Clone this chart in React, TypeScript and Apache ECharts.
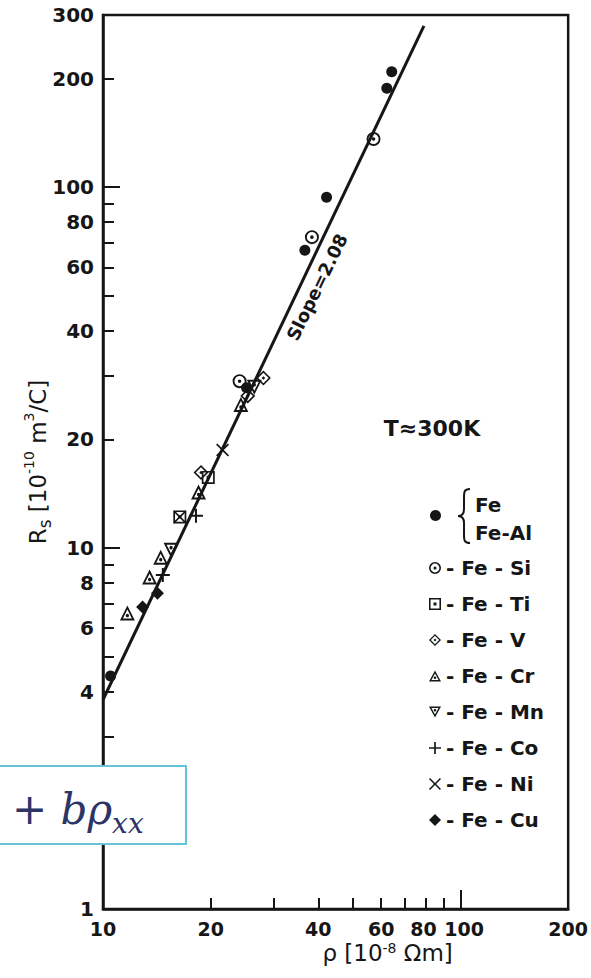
import React, { useEffect, useRef } from 'react';
import * as echarts from 'echarts';

// Axis ticks and labels (log scales)
const RHO_TICKS = [10, 20, 30, 40, 50, 60, 70, 80, 90, 100, 200];
const RHO_LABELS = [10, 20, 40, 60, 80, 100, 200];
const RHO_DECADE_TICKS = [100];
const RS_TICKS = [1, 2, 3, 4, 5, 6, 7, 8, 9, 10, 20, 30, 40, 50, 60, 70, 80, 90, 100, 200, 300];
const RS_LABELS = [1, 4, 6, 8, 10, 20, 40, 60, 80, 100, 200, 300];
const RS_DECADE_TICKS = [10, 100];

// Resistivity rho [1e-8 Ohm m] and Hall coefficient Rs [1e-10 m3/C] per alloy
const FE_RHO = [10.5, 25.2, 36.7, 42.2, 62.2, 64.2];
const FE_RS = [4.42, 27.8, 66.9, 93.8, 188, 209];
const SI_RHO = [24.1, 38.4, 57.1];
const SI_RS = [29.0, 72.7, 136];
const TI_RHO = [16.4, 19.7];
const TI_RS = [12.2, 15.7];
const V_RHO = [18.8, 25.4, 28.1];
const V_RS = [16.2, 26.4, 29.6];
const CR_RHO = [11.7, 13.5, 14.5, 18.5, 24.3];
const CR_RS = [6.61, 8.31, 9.44, 14.3, 25.0];
const MN_RHO = [15.5, 26.5];
const MN_RS = [9.87, 27.9];
const CO_RHO = [14.7, 18.2];
const CO_RS = [8.42, 12.3];
const NI_RHO = [16.4, 21.6];
const NI_RS = [12.2, 18.7];
const CU_RHO = [12.9, 14.2];
const CU_RS = [6.87, 7.5];

// Power-law fit, slope 2.08 on the log-log plot
const FIT_SLOPE = '2.08';
const FIT_LINE = [
  [10, 3.8],
  [79, 280],
];

const INK = '#161616';
const FONT = 'DejaVu Sans';

// Marker outlines with a centre dot (outer and inner contours wound oppositely)
const SYM_SI =
  'path://M0,-10A10,10,0,1,1,0,10A10,10,0,1,1,0,-10ZM0,-7.3A7.3,7.3,0,1,0,0,7.3A7.3,7.3,0,1,0,0,-7.3ZM0,-2.6A2.6,2.6,0,1,1,0,2.6A2.6,2.6,0,1,1,0,-2.6Z';
const SYM_TI = 'path://M-10,-10H10V10H-10ZM-7.4,-7.4V7.4H7.4V-7.4ZM-2.5,-2.5H2.5V2.5H-2.5Z';
const SYM_V = 'path://M0,-11L11,0L0,11L-11,0ZM0,-7.6L-7.6,0L0,7.6L7.6,0ZM0,-2.7L2.7,0L0,2.7L-2.7,0Z';
const SYM_CR =
  'path://M0,-10L10,8L-10,8ZM0,-5.05L-5.92,5.6L5.92,5.6ZM0,-0.2A2.2,2.2,0,1,1,0,4.2A2.2,2.2,0,1,1,0,-0.2Z';
const SYM_MN =
  'path://M0,10L-10,-8L10,-8ZM0,5.05L5.92,-5.6L-5.92,-5.6ZM0,0.2A2.2,2.2,0,1,0,0,-4.2A2.2,2.2,0,1,0,0,0.2Z';
const SYM_CO = 'path://M-1.4,-10H1.4V-1.4H10V1.4H1.4V10H-1.4V1.4H-10V-1.4H-1.4Z';
const SYM_NI = 'path://M-10,-8.2L-8.2,-10L0,-1.8L8.2,-10L10,-8.2L1.8,0L10,8.2L8.2,10L0,1.8L-8.2,10L-10,8.2L-1.8,0Z';

const ALLOYS = [
  { name: 'Fe', rho: FE_RHO, rs: FE_RS, symbol: 'circle', size: 11 },
  { name: 'Fe-Si', rho: SI_RHO, rs: SI_RS, symbol: SYM_SI, size: 14 },
  { name: 'Fe-Ti', rho: TI_RHO, rs: TI_RS, symbol: SYM_TI, size: 13 },
  { name: 'Fe-V', rho: V_RHO, rs: V_RS, symbol: SYM_V, size: 15 },
  { name: 'Fe-Cr', rho: CR_RHO, rs: CR_RS, symbol: SYM_CR, size: 15 },
  { name: 'Fe-Mn', rho: MN_RHO, rs: MN_RS, symbol: SYM_MN, size: 15 },
  { name: 'Fe-Co', rho: CO_RHO, rs: CO_RS, symbol: SYM_CO, size: 14 },
  { name: 'Fe-Ni', rho: NI_RHO, rs: NI_RS, symbol: SYM_NI, size: 13 },
  { name: 'Fe-Cu', rho: CU_RHO, rs: CU_RS, symbol: 'diamond', size: 13 },
];

// Curly brace grouping the Fe and Fe-Al legend labels
echarts.graphic.registerShape(
  'brace',
  echarts.graphic.extendPath(
    'M12,0C6,0,6,3,6,9L6,20C6,25,4,27,0,27C4,27,6,29,6,34L6,45C6,51,6,54,12,54',
    {}
  )
);

const tickLabelStyle = {
  color: INK,
  fontFamily: FONT,
  fontSize: 20,
  fontWeight: 'bold' as const,
};

// x-axis title: single line, tight box
const xNameRich = {
  a: { fontFamily: FONT, fontSize: 23, color: INK, lineHeight: 24 },
  p: { fontFamily: FONT, fontSize: 14, color: INK, lineHeight: 24, verticalAlign: 'top' as const },
};

// y-axis title: taller line so the subscript and superscripts sit off the baseline
const yNameRich = {
  a: { fontFamily: FONT, fontSize: 23, color: INK, lineHeight: 24 },
  s: { fontFamily: FONT, fontSize: 17, color: INK, lineHeight: 31, verticalAlign: 'bottom' as const },
  p: { fontFamily: FONT, fontSize: 14, color: INK, lineHeight: 31, verticalAlign: 'top' as const },
};

function buildOption() {
  const scatter = ALLOYS.map((a) => ({
    type: 'scatter',
    name: a.name,
    xAxisIndex: 0,
    yAxisIndex: 0,
    symbol: a.symbol,
    symbolSize: a.size,
    itemStyle: { color: INK, opacity: 1 },
    z: 4,
    data: a.rho.map((r, i) => [r, a.rs[i]]),
  }));

  return {
    animation: false,
    backgroundColor: '#ffffff',
    textStyle: { fontFamily: FONT },
    grid: {
      left: 103,
      right: 16,
      top: 15,
      bottom: 69,
      show: true,
      borderColor: INK,
      borderWidth: 2.5,
      backgroundColor: 'transparent',
    },
    xAxis: [
      {
        type: 'log',
        logBase: 10,
        min: 10,
        max: 200,
        position: 'bottom',
        axisLine: { show: true, lineStyle: { color: INK, width: 2.5 } },
        axisTick: {
          show: true,
          inside: true,
          length: 11,
          customValues: RHO_TICKS,
          lineStyle: { color: INK, width: 2 },
        },
        minorTick: { show: false },
        axisLabel: {
          ...tickLabelStyle,
          fontSize: 19,
          customValues: RHO_LABELS,
          margin: 10,
          formatter: (v: number) => {
            const n = Math.round(v);
            if (n === 80) return '{l|80}';
            if (n === 100) return '{r|100}';
            return String(n);
          },
          rich: {
            l: { ...tickLabelStyle, fontSize: 19, padding: [0, 5, 0, 0] },
            r: { ...tickLabelStyle, fontSize: 19, padding: [0, 0, 0, 7] },
          },
        },
        splitLine: { show: false },
        name: '{a|ρ [10}{p|-8}{a| Ωm]}',
        nameLocation: 'middle',
        nameGap: 32,
        nameMoveOverlap: false,
        nameTextStyle: { rich: xNameRich, padding: [0, 0, 0, 104] },
      },
      {
        type: 'log',
        logBase: 10,
        min: 10,
        max: 200,
        position: 'bottom',
        axisLine: { show: false },
        axisTick: {
          show: true,
          inside: true,
          length: 19,
          customValues: RHO_DECADE_TICKS,
          lineStyle: { color: INK, width: 2 },
        },
        axisLabel: { show: false },
        splitLine: { show: false },
      },
    ],
    yAxis: [
      {
        type: 'log',
        logBase: 10,
        min: 1,
        max: 300,
        position: 'left',
        axisLine: { show: true, lineStyle: { color: INK, width: 2.5 } },
        axisTick: {
          show: true,
          inside: true,
          length: 11,
          customValues: RS_TICKS,
          lineStyle: { color: INK, width: 2 },
        },
        minorTick: { show: false },
        axisLabel: {
          ...tickLabelStyle,
          customValues: RS_LABELS,
          margin: 9,
          formatter: (v: number) => String(Math.round(v)),
        },
        splitLine: { show: false },
        name: '{a|R}{s|s}{a| [10}{p|-10}{a| m}{p|3}{a|/C]}',
        nameLocation: 'middle',
        nameRotate: 90,
        nameGap: 50,
        nameMoveOverlap: false,
        nameTextStyle: { rich: yNameRich },
      },
      {
        type: 'log',
        logBase: 10,
        min: 1,
        max: 300,
        position: 'left',
        axisLine: { show: false },
        axisTick: {
          show: true,
          inside: true,
          length: 17,
          customValues: RS_DECADE_TICKS,
          lineStyle: { color: INK, width: 2 },
        },
        axisLabel: { show: false },
        splitLine: { show: false },
      },
    ],
    legend: [
      {
        data: [{ name: 'Fe', icon: 'circle' }],
        orient: 'vertical',
        left: 430,
        top: 510,
        padding: 0,
        itemWidth: 11,
        itemHeight: 11,
        selectedMode: false,
        formatter: () => '',
        textStyle: { fontSize: 14, lineHeight: 14 },
      },
      {
        data: ALLOYS.slice(1).map((a) => ({ name: a.name, icon: a.symbol })),
        orient: 'vertical',
        left: 429,
        top: 557,
        padding: 0,
        itemWidth: 12,
        itemHeight: 12,
        itemGap: 14,
        selectedMode: false,
        formatter: (n: string) => '- ' + n.replace('-', ' - '),
        textStyle: {
          color: INK,
          fontFamily: FONT,
          fontSize: 20,
          fontWeight: 'bold',
          lineHeight: 22,
        },
      },
    ],
    series: [
      {
        type: 'line',
        name: 'fit',
        xAxisIndex: 0,
        yAxisIndex: 0,
        data: FIT_LINE,
        showSymbol: false,
        silent: true,
        lineStyle: { color: INK, width: 3 },
        z: 2,
      },
      ...scatter,
    ],
    graphic: [
      {
        type: 'text',
        x: 317,
        y: 287,
        rotation: (64 * Math.PI) / 180,
        style: {
          text: 'Slope=' + FIT_SLOPE,
          fill: INK,
          font: 'bold 18px "DejaVu Sans"',
          align: 'center',
          verticalAlign: 'middle',
        },
      },
      {
        type: 'text',
        x: 432,
        y: 428,
        style: {
          text: 'T≈300K',
          fill: INK,
          font: 'bold 22px "DejaVu Sans"',
          align: 'center',
          verticalAlign: 'middle',
        },
      },
      {
        type: 'brace',
        x: 458,
        y: 489,
        style: { stroke: INK, fill: 'none', lineWidth: 2 },
      },
      {
        type: 'text',
        x: 475,
        y: 505,
        style: {
          text: 'Fe',
          fill: INK,
          font: 'bold 20px "DejaVu Sans"',
          verticalAlign: 'middle',
        },
      },
      {
        type: 'text',
        x: 475,
        y: 533,
        style: {
          text: 'Fe-Al',
          fill: INK,
          font: 'bold 20px "DejaVu Sans"',
          verticalAlign: 'middle',
        },
      },
      {
        type: 'group',
        z: 100,
        children: [
          {
            type: 'rect',
            z: 100,
            shape: { x: -4, y: 766, width: 190, height: 78 },
            style: { fill: '#ffffff', stroke: '#66c3d8', lineWidth: 2 },
          },
          {
            type: 'text',
            z: 101,
            x: 12,
            y: 809,
            style: {
              text: '{op|+ }{v|bρ}{sub|xx}',
              verticalAlign: 'middle',
              rich: {
                op: { fontFamily: 'DejaVu Serif', fontSize: 42, fill: '#2d3466', lineHeight: 56 },
                v: {
                  fontFamily: 'DejaVu Serif',
                  fontStyle: 'italic',
                  fontSize: 42,
                  fill: '#2d3466',
                  lineHeight: 56,
                },
                sub: {
                  fontFamily: 'DejaVu Serif',
                  fontStyle: 'italic',
                  fontSize: 28,
                  fill: '#2d3466',
                  lineHeight: 56,
                  verticalAlign: 'bottom',
                },
              },
            },
          },
        ],
      },
    ],
  };
}

export default function App() {
  const ref = useRef<HTMLDivElement>(null);
  useEffect(() => {
    if (!ref.current) return;
    const chart = echarts.init(ref.current, null, { renderer: 'svg' });
    chart.setOption(buildOption() as any);
    return () => chart.dispose();
  }, []);
  return (
    <div
      ref={ref}
      style={{ position: 'absolute', left: 0, top: 0, width: 591, height: 978, background: '#fff' }}
    />
  );
}
